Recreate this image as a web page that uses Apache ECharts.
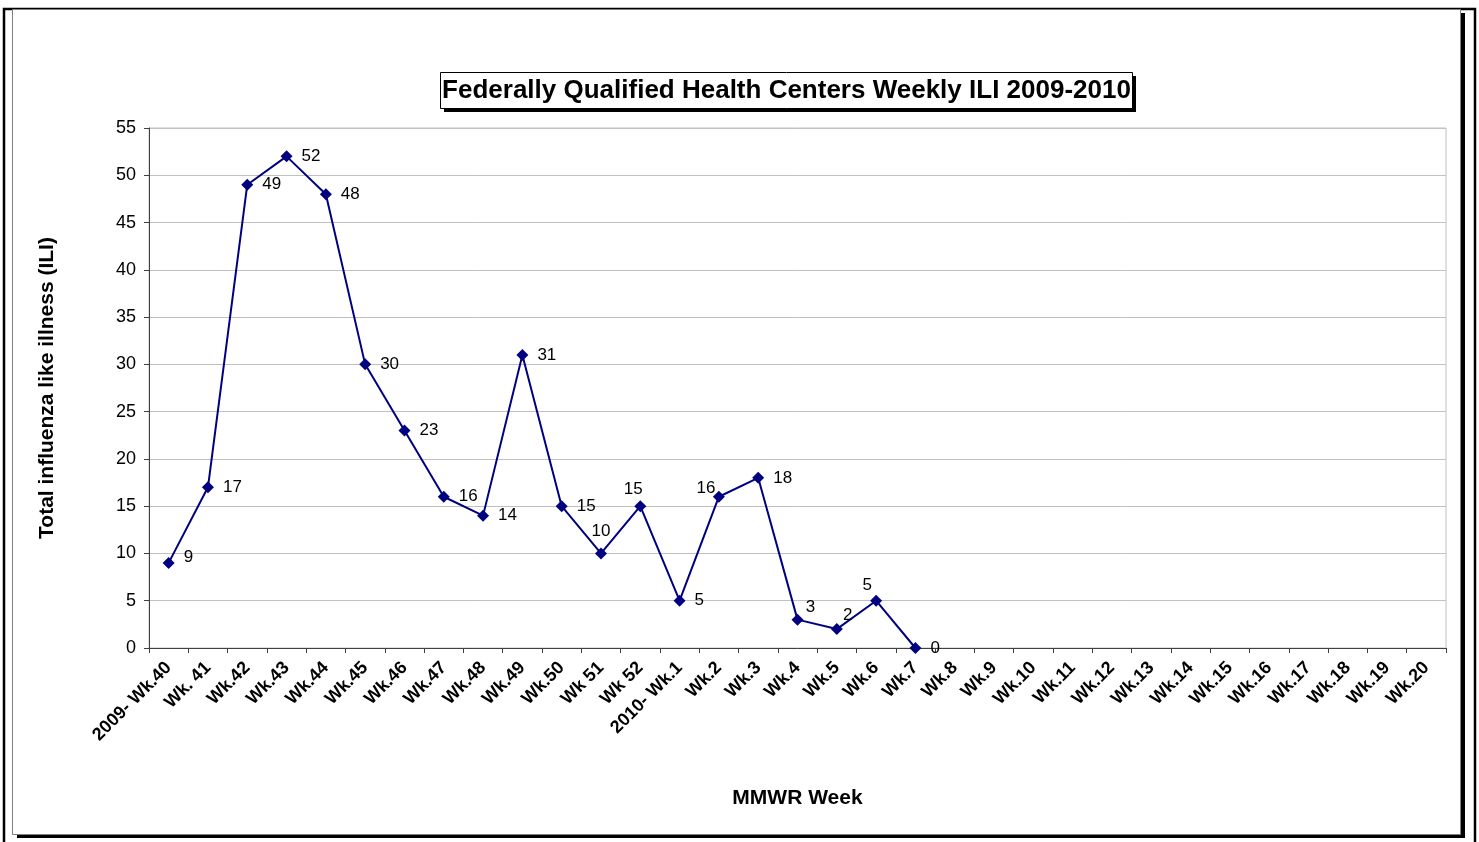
<!DOCTYPE html>
<html lang="en">
<head>
	<meta charset="UTF-8">
	<title>FQHC weekly ILI</title>
	<style>
		html, body { margin: 0; padding: 0; background: #fff; }
		#chart { width: 1479px; height: 842px; }
	</style>
</head>
<body>
	<div id="chart"></div>
	<script src="https://cdn.jsdelivr.net/npm/echarts@6/dist/echarts.min.js"></script>
	<script>
		// categories (MMWR weeks) and values
		var weeks = ['2009- Wk.40', 'Wk. 41', 'Wk.42', 'Wk.43', 'Wk.44', 'Wk.45', 'Wk.46', 'Wk.47',
			'Wk.48', 'Wk.49', 'Wk.50', 'Wk 51', 'Wk 52', '2010- Wk.1', 'Wk.2', 'Wk.3', 'Wk.4',
			'Wk.5', 'Wk.6', 'Wk.7', 'Wk.8', 'Wk.9', 'Wk.10', 'Wk.11', 'Wk.12', 'Wk.13', 'Wk.14',
			'Wk.15', 'Wk.16', 'Wk.17', 'Wk.18', 'Wk.19', 'Wk.20'];
		var iliCounts = [9, 17, 49, 52, 48, 30, 23, 16, 14, 31, 15, 10, 15, 5, 16, 18, 3, 2, 5, 0];

		var FONT = 'Arial, "Liberation Sans", sans-serif';

		// where each value label sits (default: right of the marker)
		var labelPlace = {
			0: { offset: [0, -6] },
			11: { position: 'top', offset: [0, 1] },
			12: { position: 'top', offset: [-7, 7] },
			14: { position: 'top', offset: [-13, 15] },
			16: { position: 'top', offset: [13, 11] },
			17: { position: 'top', offset: [11, 10] },
			18: { position: 'top', offset: [-9, 8] }
		};

		var seriesData = iliCounts.map(function (v, i) {
			var item = { value: v };
			if (labelPlace[i]) {
				item.label = labelPlace[i];
			}
			return item;
		});

		var chart = echarts.init(document.getElementById('chart'));

		var option = {
			backgroundColor: '#fff',
			animation: false,
			graphic: [
				{ type: 'rect', z: -10, shape: { x: 4, y: 9, width: 1471, height: 900 },
					style: { fill: 'none', stroke: '#000', lineWidth: 2.5 } },
				{ type: 'rect', z: -9, shape: { x: 17, y: 13, width: 1448, height: 825 },
					style: { fill: '#000' } },
				{ type: 'rect', z: -8, shape: { x: 12.5, y: 9.5, width: 1448, height: 825 },
					style: { fill: '#fff', stroke: '#808080', lineWidth: 1 } },
				{ type: 'rect', z: -7, shape: { x: 444, y: 76, width: 692, height: 36 },
					style: { fill: '#000' } },
				{ type: 'rect', z: -6, shape: { x: 440.5, y: 72.5, width: 692, height: 36 },
					style: { fill: '#fff', stroke: '#000', lineWidth: 1 } },
				{ type: 'text', z: -5, x: 786.5, y: 90.5,
					style: { text: 'Federally Qualified Health Centers Weekly ILI 2009-2010',
						fill: '#000', font: 'bold 26px ' + FONT, align: 'center', verticalAlign: 'middle' } }
			],
			grid: {
				left: 149,
				right: 33,
				top: 128,
				bottom: 194,
				show: true,
				borderColor: '#c0c0c0',
				borderWidth: 1
			},
			xAxis: {
				type: 'category',
				data: weeks,
				boundaryGap: true,
				name: 'MMWR Week',
				nameLocation: 'middle',
				nameGap: 140,
				nameTextStyle: { fontFamily: FONT, fontWeight: 'bold', fontSize: 21, color: '#000' },
				axisLine: { lineStyle: { color: '#404040', width: 1 } },
				axisTick: { show: true, length: 5, alignWithLabel: false, lineStyle: { color: '#404040' } },
				axisLabel: {
					interval: 0,
					rotate: 45,
					margin: 17,
					fontFamily: FONT,
					fontWeight: 'bold',
					fontSize: 18,
					color: '#000'
				},
				splitLine: { show: false }
			},
			yAxis: {
				type: 'value',
				min: 0,
				max: 55,
				interval: 5,
				name: 'Total influenza like illness (ILI)',
				nameLocation: 'middle',
				nameGap: 91,
				nameRotate: 90,
				nameTextStyle: { fontFamily: FONT, fontWeight: 'bold', fontSize: 21, color: '#000' },
				axisLine: { show: true, lineStyle: { color: '#404040', width: 1 } },
				axisTick: { show: true, length: 5, inside: false, lineStyle: { color: '#404040' } },
				axisLabel: { fontFamily: FONT, fontSize: 18, color: '#000', margin: 13 },
				splitLine: { show: true, lineStyle: { color: '#c0c0c0', width: 1 } }
			},
			series: [
				{
					name: 'ILI',
					type: 'line',
					data: seriesData,
					symbol: 'diamond',
					symbolSize: 12,
					lineStyle: { color: '#000080', width: 2 },
					itemStyle: { color: '#000080' },
					label: {
						show: true,
						position: 'right',
						distance: 9,
						fontFamily: FONT,
						fontSize: 17,
						color: '#000'
					}
				}
			]
		};

		chart.setOption(option);
	</script>
</body>
</html>
